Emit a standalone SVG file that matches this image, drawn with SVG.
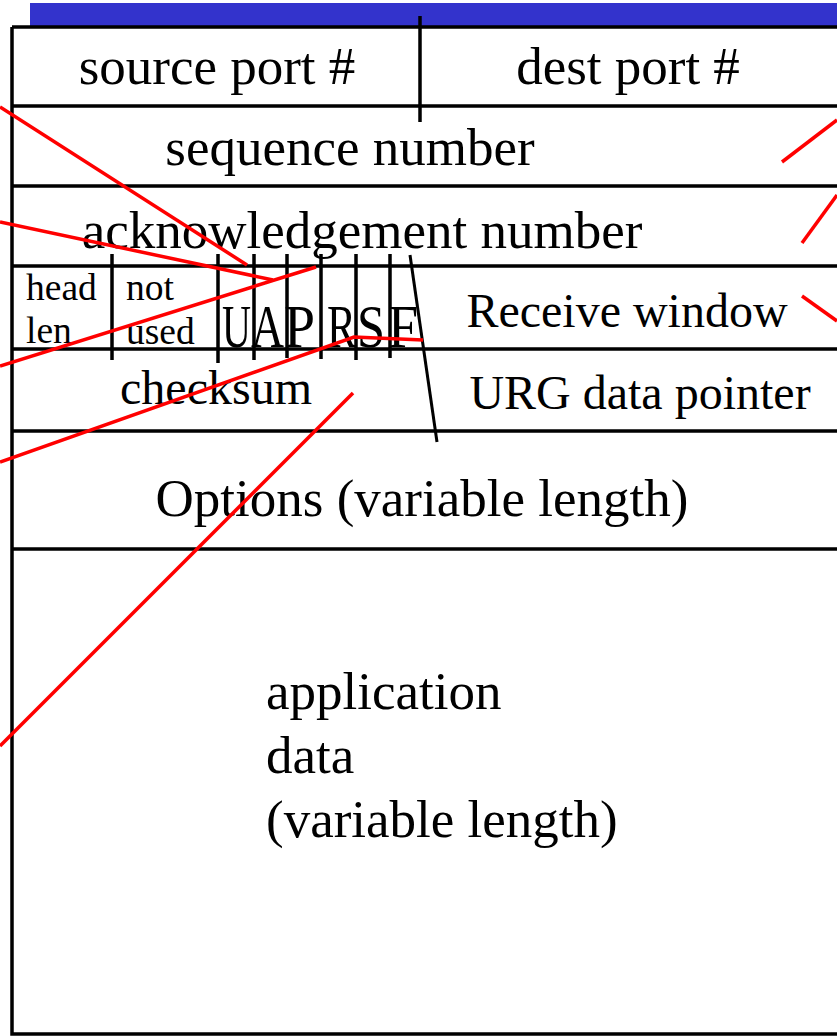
<svg xmlns="http://www.w3.org/2000/svg" width="837" height="1036" viewBox="0 0 837 1036">
<style>
.ln{stroke:#000;stroke-width:3.5;fill:none;stroke-linecap:butt}
.t{font-family:"Liberation Serif","Times New Roman",serif;fill:#000}
.big{font-size:53px}
.mid{font-size:48px}
.sm{font-size:37.5px}
.flag{font-size:62px}
.red{stroke:#ff0000;stroke-width:3.5;fill:none}
</style>
<rect width="837" height="1036" fill="#fff"/>
<rect id="bluebar" x="30" y="3" width="807" height="24" fill="#3333cc"/>
<g id="frame">
<path class="ln" d="M12,27 H837 M12,27 V1034 H837"/>
<path class="ln" d="M12,106 H837 M12,186 H837 M12,266 H837 M12,349 H837 M12,431 H837 M12,549 H837"/>
</g>
<g id="source-port"><text class="t big" x="217" y="84" text-anchor="middle">source port #</text></g>
<g id="dest-port"><path class="ln" d="M420,16 V122"/><text class="t big" x="628" y="84" text-anchor="middle">dest port #</text></g>
<g id="sequence-number"><text class="t big" x="350" y="165" text-anchor="middle">sequence number</text></g>
<g id="ack-number"><text class="t big" x="362" y="248" text-anchor="middle">acknowledgement number</text></g>
<g id="head-len"><text class="t sm" x="26" y="300">head</text><text class="t sm" x="26" y="343">len</text></g>
<g id="not-used"><path class="ln" d="M112,254 V360"/><text class="t sm" x="126" y="300">not</text><text class="t sm" x="126" y="344">used</text></g>
<g id="flags">
<path class="ln" d="M218,254 V363 M254,254 V360 M287,254 V358 M321,254 V359 M356,254 V360 M390,254 V358"/>
<text class="t flag" x="222" y="347" textLength="29" lengthAdjust="spacingAndGlyphs">U</text>
<text class="t flag" x="251" y="347" textLength="33" lengthAdjust="spacingAndGlyphs">A</text>
<text class="t flag" x="284" y="347" textLength="31" lengthAdjust="spacingAndGlyphs">P</text>
<text class="t flag" x="327" y="347" textLength="29" lengthAdjust="spacingAndGlyphs">R</text>
<text class="t flag" x="357" y="347" textLength="28" lengthAdjust="spacingAndGlyphs">S</text>
<text class="t flag" x="388" y="347" textLength="30" lengthAdjust="spacingAndGlyphs">F</text>
<path class="ln" d="M410,255 L437,442" style="stroke-width:3"/>
</g>
<g id="receive-window"><text class="t mid" x="627" y="327" text-anchor="middle">Receive window</text></g>
<g id="checksum"><text class="t mid" x="216" y="404" text-anchor="middle">checksum</text></g>
<g id="urg-pointer"><text class="t mid" x="640" y="409" text-anchor="middle">URG data pointer</text></g>
<g id="options"><text class="t big" x="422" y="516" text-anchor="middle">Options (variable length)</text></g>
<g id="app-data"><text class="t big" x="266" y="709">application</text><text class="t big" x="266" y="773">data</text><text class="t big" x="266" y="837">(variable length)</text></g>
<g id="connectors">
<path class="red" d="M0,107 L247,265"/>
<path class="red" d="M0,222 L273,280"/>
<path class="red" d="M0,366 L316,267"/>
<path class="red" d="M0,462 L354,337 L423,340"/>
<path class="red" d="M0,746 L353,393"/>
<path class="red" d="M782,162 L837,120"/>
<path class="red" d="M802,243 L837,195"/>
<path class="red" d="M802,296 L837,321"/>
</g>
</svg>
